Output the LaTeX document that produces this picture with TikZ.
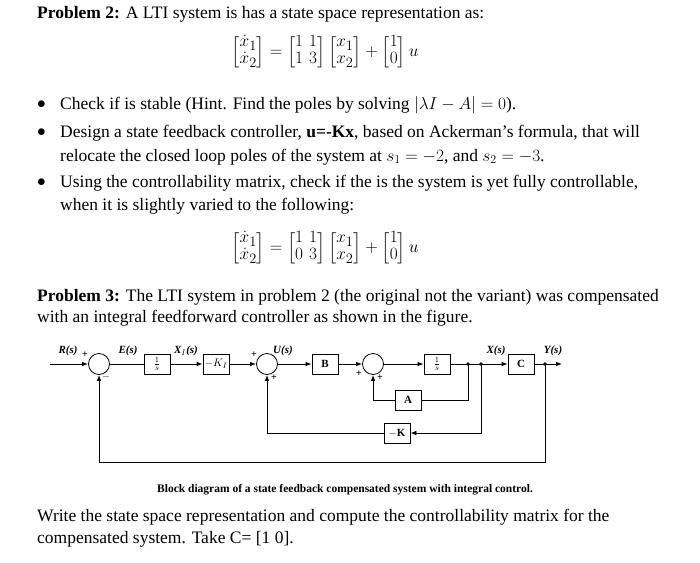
\documentclass[tikz,border=0pt]{standalone}
\usepackage{amsmath}
\usepackage{fontspec}
\setmainfont{Liberation Serif}
\usetikzlibrary{arrows.meta}
\begin{document}
\begin{tikzpicture}[x=1pt,y=-1pt,
  txt/.style={anchor=west,inner sep=0,font=\fontsize{17.5}{20}\selectfont},
  eq/.style={inner sep=0,font=\fontsize{19}{21}\selectfont},
  blk/.style={draw,thick,minimum width=26pt,minimum height=20pt,inner sep=1pt,font=\fontsize{11}{12}\selectfont\bfseries},
  sm/.style={draw,thick,circle,minimum size=21pt,inner sep=0},
  lab/.style={font=\fontsize{11}{12}\selectfont\itshape\bfseries,inner sep=1pt},
  sg/.style={font=\fontsize{10}{11}\selectfont\bfseries,inner sep=0},
  ar/.style={thick,-{Latex[length=6pt]}}]
\useasboundingbox (0,0) rectangle (700,562);
\node[txt] (t1) at (37,14) {\textbf{Problem 2:} A LTI system is has a state space representation as:};
\node[eq] (e1) at (325,52) {\renewcommand{\arraystretch}{0.8}\setlength{\arraycolsep}{3pt}$\begin{bmatrix}\dot x_1\\ \dot x_2\end{bmatrix}=\begin{bmatrix}1&1\\1&3\end{bmatrix}\begin{bmatrix}x_1\\ x_2\end{bmatrix}+\begin{bmatrix}1\\0\end{bmatrix}u$};
\node[txt] (b1) at (37,105) {$\bullet$};
\node[txt] (l1) at (60,105) {Check if is stable (Hint. Find the poles by solving $|\lambda I-A|=0$).};
\node[txt] (b2) at (37,133) {$\bullet$};
\node[txt] (l2) at (60,133) {Design a state feedback controller, \textbf{u=-Kx}, based on Ackerman’s formula, that will};
\node[txt] (l3) at (60,157) {relocate the closed loop poles of the system at $s_1=-2$, and $s_2=-3$.};
\node[txt] (b3) at (37,183) {$\bullet$};
\node[txt] (l4) at (60,183) {Using the controllability matrix, check if the is the system is yet fully controllable,};
\node[txt] (l5) at (60,206) {when it is slightly varied to the following:};
\node[eq] (e2) at (325,248) {\renewcommand{\arraystretch}{0.8}\setlength{\arraycolsep}{3pt}$\begin{bmatrix}\dot x_1\\ \dot x_2\end{bmatrix}=\begin{bmatrix}1&1\\0&3\end{bmatrix}\begin{bmatrix}x_1\\ x_2\end{bmatrix}+\begin{bmatrix}1\\0\end{bmatrix}u$};
\node[txt] (p3) at (37,297) {\textbf{Problem 3:} The LTI system in problem 2 (the original not the variant) was compensated};
\node[txt] (p3b) at (37,318) {with an integral feedforward controller as shown in the figure.};
% diagram
\coordinate (in) at (50,364);
\node[sm] (s1) at (99,364) {};
\node[blk] (is1) at (157,364) {$\frac{1}{s}$};
\node[blk] (ki) at (216,364) {$-K_I$};
\node[sm] (s2) at (267,364) {};
\node[blk] (bb) at (325,364) {B};
\node[sm] (s3) at (373,364) {};
\node[blk] (is2) at (437,364) {$\frac{1}{s}$};
\coordinate (ta) at (468,364);
\coordinate (tk) at (481,364);
\node[blk] (cc) at (521,364) {C};
\coordinate (ty) at (545,364);
\coordinate (out) at (562,364);
\node[blk] (aa) at (408,400) {A};
\node[blk] (kk) at (397,433) {$-$K};
\coordinate (bot) at (99,462);
\draw[ar] (in) -- (s1);
\draw[thick] (s1) -- (is1);
\draw[ar] (is1) -- (ki);
\draw[ar] (ki) -- (s2);
\draw[ar] (s2) -- (bb);
\draw[ar] (bb) -- (s3);
\draw[ar] (s3) -- (is2);
\draw[ar] (is2) -- (cc);
\draw[ar] (cc) -- (out);
\draw[thick] (ta) |- (aa);
\draw[ar] (aa) -| (s3);
\draw[ar] (tk) |- (kk);
\draw[ar] (kk) -| (s2);
\draw[ar] (ty) |- (bot) -- (s1);
\fill (ta) circle (1.8pt) (tk) circle (1.8pt) (ty) circle (1.8pt);
\node[lab] (lr) at (68,351) {R(s)};
\node[lab] (le) at (128,351) {E(s)};
\node[lab] (lx) at (186,351) {X$_I$(s)};
\node[lab] (lu) at (283,351) {U(s)};
\node[lab] (lxs) at (496,351) {X(s)};
\node[lab] (ly) at (553,351) {Y(s)};
\node[sg] (g1) at (85,355) {+};
\node[sg] (g2) at (106,377) {$-$};
\node[sg] (g3) at (254,355) {+};
\node[sg] (g4) at (274,378) {+};
\node[sg] (g5) at (359,374) {+};
\node[sg] (g6) at (380,378) {+};
\node[inner sep=0,font=\fontsize{11.5}{13}\selectfont\bfseries] (cap) at (345,490) {Block diagram of a state feedback compensated system with integral control.};
\node[txt] (w1) at (37,517) {Write the state space representation and compute the controllability matrix for the};
\node[txt] (w2) at (37,539) {compensated system. Take C= [1 0].};
\end{tikzpicture}
\end{document}
